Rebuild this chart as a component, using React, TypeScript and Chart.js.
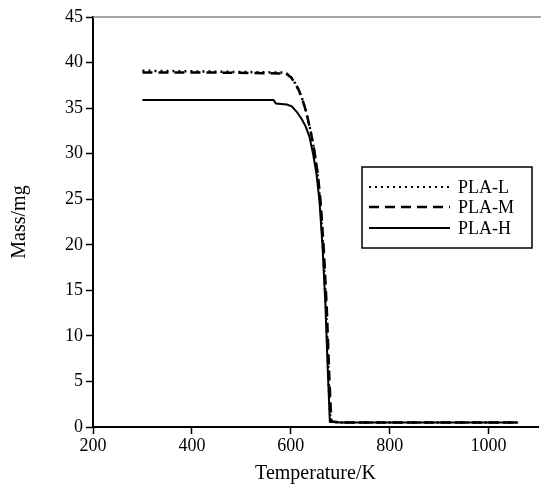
import React, { useEffect, useRef } from "react";
import { Chart, registerables } from "chart.js";

Chart.register(...registerables);

const seriesLabels = ["PLA-L", "PLA-M", "PLA-H"];

const tempL = [300, 450, 588, 598, 606, 614, 622, 630, 638, 646, 653, 659, 665, 671, 676, 680, 700, 800, 900, 1000, 1060];
const massL = [39.1, 39.0, 38.9, 38.6, 38.0, 37.2, 36.2, 34.8, 33.0, 30.8, 28.2, 25.0, 20.0, 13.5, 6.0, 0.6, 0.5, 0.5, 0.5, 0.5, 0.5];

const tempM = [300, 450, 590, 600, 608, 616, 624, 632, 640, 648, 655, 661, 667, 673, 678, 682, 700, 800, 900, 1000, 1060];
const massM = [38.9, 38.9, 38.8, 38.4, 37.8, 37.0, 35.9, 34.4, 32.5, 30.2, 27.6, 24.3, 19.3, 12.8, 5.4, 0.6, 0.5, 0.5, 0.5, 0.5, 0.5];

const tempH = [300, 565, 570, 592, 602, 612, 622, 630, 638, 645, 652, 658, 664, 670, 675, 679, 700, 800, 900, 1000, 1060];
const massH = [35.9, 35.9, 35.5, 35.4, 35.2, 34.6, 33.8, 33.0, 31.8, 30.0, 27.8, 24.8, 20.0, 13.5, 6.0, 0.6, 0.5, 0.5, 0.5, 0.5, 0.5];

const xTicks = [200, 400, 600, 800, 1000];
const yTicks = [0, 5, 10, 15, 20, 25, 30, 35, 40, 45];

const FONT = "'Liberation Serif', 'Times New Roman', serif";

const toPoints = (xs: number[], ys: number[]) => xs.map((x, i) => ({ x, y: ys[i] }));

const dashes = [[2, 4], [10, 6], []];

const framePlugin = {
  id: "frameAndLegend",
  afterDraw(chart: any) {
    const { ctx, chartArea } = chart;
    ctx.save();
    // top border
    ctx.strokeStyle = "#888";
    ctx.lineWidth = 1.5;
    ctx.beginPath();
    ctx.moveTo(chartArea.left, chartArea.top);
    ctx.lineTo(chart.width, chartArea.top);
    ctx.stroke();

    // legend box
    const bx = 362, by = 167, bw = 170, bh = 81;
    ctx.strokeStyle = "#000";
    ctx.lineWidth = 1.5;
    ctx.strokeRect(bx, by, bw, bh);
    const rows = [187, 207, 228];
    ctx.font = `18px ${FONT}`;
    ctx.textBaseline = "middle";
    ctx.fillStyle = "#000";
    chart.data.datasets.forEach((ds: any, i: number) => {
      ctx.beginPath();
      ctx.setLineDash(dashes[i]);
      ctx.lineWidth = i === 1 ? 2.5 : 2;
      ctx.moveTo(369, rows[i]);
      ctx.lineTo(450, rows[i]);
      ctx.stroke();
      ctx.setLineDash([]);
      ctx.fillText(ds.label, 458, rows[i] + 1);
    });
    ctx.restore();
  },
};

export default function App() {
  const ref = useRef<HTMLCanvasElement>(null);

  useEffect(() => {
    if (!ref.current) return;
    const chart = new Chart(ref.current, {
      type: "line",
      data: {
        datasets: [
          {
            label: seriesLabels[0],
            data: toPoints(tempL, massL),
            borderColor: "#000",
            borderWidth: 2.5,
            borderDash: dashes[0],
            pointRadius: 0,
            tension: 0,
          },
          {
            label: seriesLabels[1],
            data: toPoints(tempM, massM),
            borderColor: "#000",
            borderWidth: 2.5,
            borderDash: dashes[1],
            pointRadius: 0,
            tension: 0,
          },
          {
            label: seriesLabels[2],
            data: toPoints(tempH, massH),
            borderColor: "#000",
            borderWidth: 2,
            pointRadius: 0,
            tension: 0,
          },
        ],
      },
      options: {
        animation: false,
        responsive: false,
        maintainAspectRatio: false,
        layout: { padding: { top: 17, right: 3, left: 0, bottom: 0 } },
        plugins: {
          legend: { display: false },
          tooltip: { enabled: false },
        },
        scales: {
          x: {
            type: "linear",
            min: 200,
            max: 1100,
            afterBuildTicks: (scale: any) => {
              scale.ticks = xTicks.map((v) => ({ value: v }));
            },
            afterFit: (scale: any) => {
              scale.height = 63;
            },
            ticks: {
              color: "#000",
              font: { family: FONT, size: 18 },
              padding: 1,
              maxRotation: 0,
              callback: (v: any) => String(v),
            },
            grid: {
              drawOnChartArea: false,
              color: "#000",
              tickLength: 7,
              tickWidth: 1.5,
            },
            border: { color: "#000", width: 2 },
            title: {
              display: true,
              text: "Temperature/K",
              color: "#000",
              font: { family: FONT, size: 20 },
              padding: { top: 2 },
            },
          },
          y: {
            type: "linear",
            min: 0,
            max: 45,
            afterBuildTicks: (scale: any) => {
              scale.ticks = yTicks.map((v) => ({ value: v }));
            },
            afterFit: (scale: any) => {
              scale.width = 93;
            },
            ticks: {
              color: "#000",
              font: { family: FONT, size: 18 },
              padding: 3,
              callback: (v: any) => String(v),
            },
            grid: {
              drawOnChartArea: false,
              color: "#000",
              tickLength: 7,
              tickWidth: 1.5,
            },
            border: { color: "#000", width: 2 },
            title: {
              display: true,
              text: "Mass/mg",
              color: "#000",
              font: { family: FONT, size: 20 },
              padding: { top: 8, bottom: 0 },
            },
          },
        },
      },
      plugins: [framePlugin],
    });
    return () => chart.destroy();
  }, []);

  return (
    <div style={{ position: "absolute", left: 0, top: 0, width: 541, height: 490, background: "#fff" }}>
      <canvas ref={ref} width={541} height={490} style={{ width: 541, height: 490 }} />
    </div>
  );
}
